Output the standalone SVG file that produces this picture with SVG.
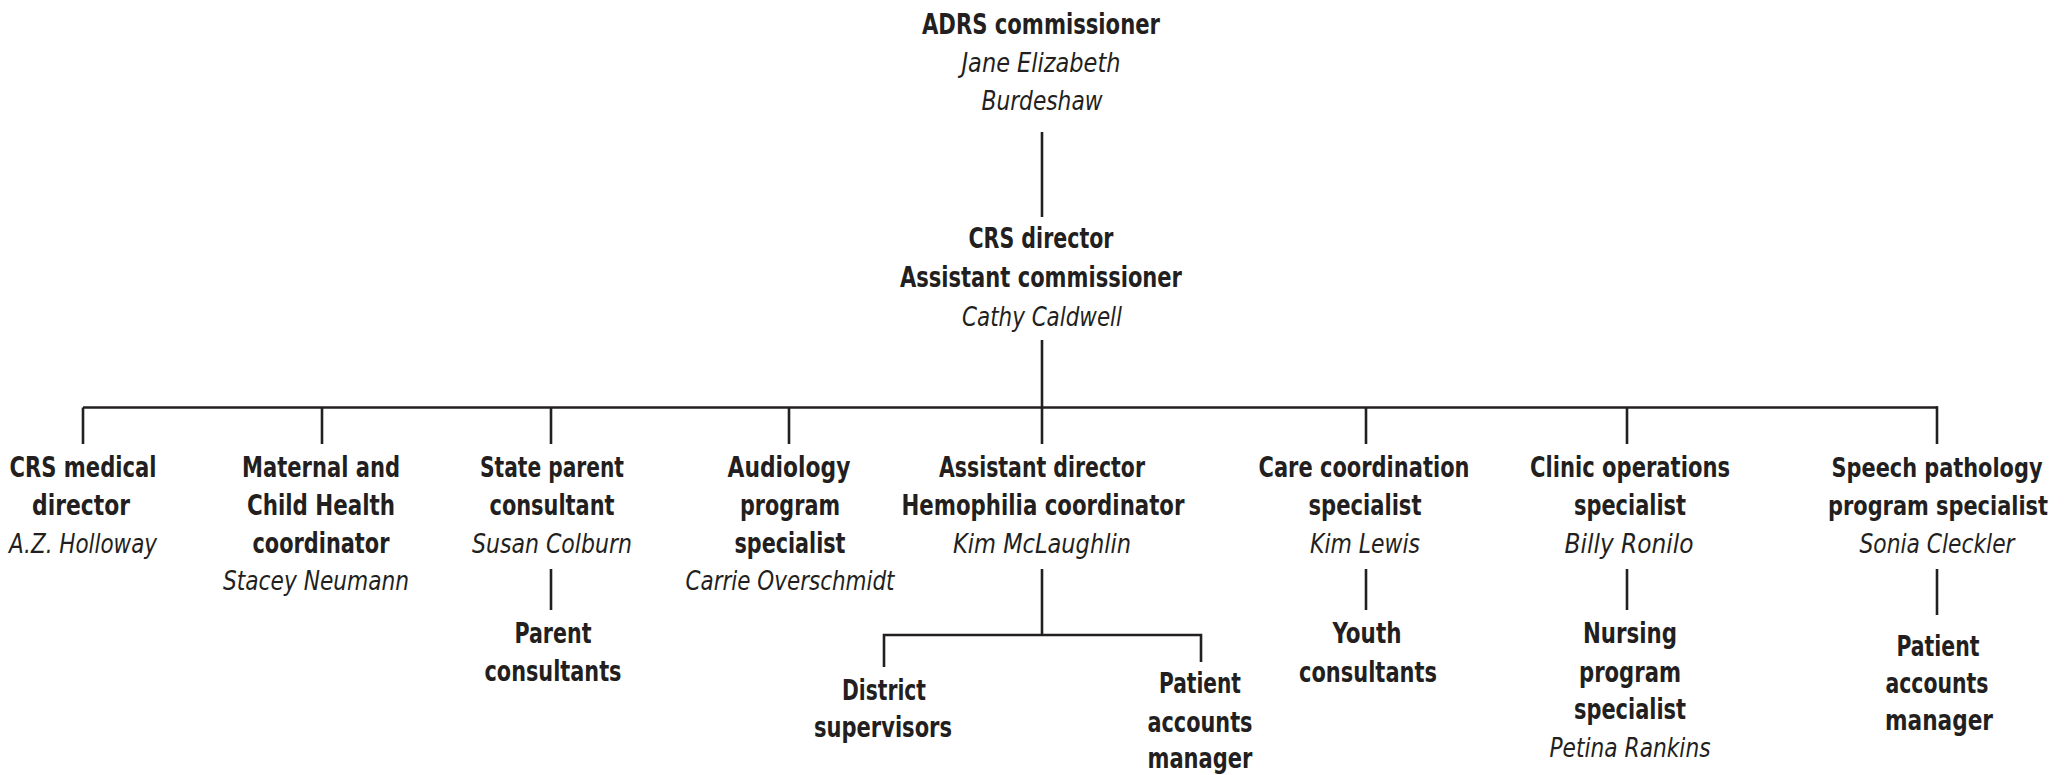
<svg xmlns="http://www.w3.org/2000/svg" width="2068" height="775" viewBox="0 0 2068 775">
<style>
text{font-family:"Liberation Sans Narrow","DejaVu Sans Condensed","Liberation Sans",sans-serif;fill:#231f20;text-anchor:middle}
.t{font-size:28px;font-weight:bold}
.n{font-size:26px;font-style:italic;font-weight:normal}
.s{font-size:26px}
.c{stroke:#231f20;stroke-width:2.6;fill:none}
</style>
<rect width="2068" height="775" fill="#ffffff"/>
<g id="connectors" class="c">
<line x1="1042" y1="132" x2="1042" y2="217"/>
<line x1="1042" y1="340" x2="1042" y2="444"/>
<line x1="83" y1="407.5" x2="1937" y2="407.5"/>
<polyline points="83,444 83,407.5"/>
<line x1="322" y1="407.5" x2="322" y2="444"/>
<line x1="551" y1="407.5" x2="551" y2="444"/>
<line x1="789" y1="407.5" x2="789" y2="444"/>
<line x1="1366" y1="407.5" x2="1366" y2="444"/>
<line x1="1627" y1="407.5" x2="1627" y2="444"/>
<line x1="1937" y1="406.2" x2="1937" y2="444"/>
<line x1="551" y1="569" x2="551" y2="610"/>
<line x1="1366" y1="569" x2="1366" y2="610"/>
<line x1="1627" y1="569" x2="1627" y2="610"/>
<line x1="1937" y1="569" x2="1937" y2="615"/>
<line x1="1042" y1="569" x2="1042" y2="635"/>
<polyline points="884,667 884,635 1201,635 1201,662"/>
</g>
<g id="adrs">
<text class="t" x="1041" y="34" textLength="238" lengthAdjust="spacingAndGlyphs">ADRS commissioner</text>
<text class="n" x="1041" y="72" textLength="159" lengthAdjust="spacingAndGlyphs">Jane Elizabeth</text>
<text class="n" x="1042" y="110" textLength="121" lengthAdjust="spacingAndGlyphs">Burdeshaw</text>
</g>
<g id="crs-director">
<text class="t" x="1041" y="248" textLength="145" lengthAdjust="spacingAndGlyphs">CRS director</text>
<text class="t" x="1041" y="287" textLength="282" lengthAdjust="spacingAndGlyphs">Assistant commissioner</text>
<text class="n" x="1042" y="326" textLength="160" lengthAdjust="spacingAndGlyphs">Cathy Caldwell</text>
</g>
<g id="crs-medical">
<text class="t" x="83" y="477" textLength="147" lengthAdjust="spacingAndGlyphs">CRS medical</text>
<text class="t" x="81" y="515" textLength="98" lengthAdjust="spacingAndGlyphs">director</text>
<text class="n" x="83" y="553" textLength="148" lengthAdjust="spacingAndGlyphs">A.Z. Holloway</text>
</g>
<g id="maternal">
<text class="t" x="321" y="477" textLength="158" lengthAdjust="spacingAndGlyphs">Maternal and</text>
<text class="t" x="321" y="515" textLength="148" lengthAdjust="spacingAndGlyphs">Child Health</text>
<text class="t" x="321" y="553" textLength="137" lengthAdjust="spacingAndGlyphs">coordinator</text>
<text class="n" x="316" y="590" textLength="186" lengthAdjust="spacingAndGlyphs">Stacey Neumann</text>
</g>
<g id="state-parent">
<text class="t" x="552" y="477" textLength="144" lengthAdjust="spacingAndGlyphs">State parent</text>
<text class="t" x="552" y="515" textLength="125" lengthAdjust="spacingAndGlyphs">consultant</text>
<text class="n" x="552" y="553" textLength="160" lengthAdjust="spacingAndGlyphs">Susan Colburn</text>
</g>
<g id="parent-consultants">
<text class="t" x="553" y="643" textLength="77" lengthAdjust="spacingAndGlyphs">Parent</text>
<text class="t" x="553" y="681" textLength="137" lengthAdjust="spacingAndGlyphs">consultants</text>
</g>
<g id="audiology">
<text class="t" x="789" y="477" textLength="123" lengthAdjust="spacingAndGlyphs">Audiology</text>
<text class="t" x="790" y="515" textLength="100" lengthAdjust="spacingAndGlyphs">program</text>
<text class="t" x="790" y="553" textLength="111" lengthAdjust="spacingAndGlyphs">specialist</text>
<text class="n" x="790" y="590" textLength="209" lengthAdjust="spacingAndGlyphs">Carrie Overschmidt</text>
</g>
<g id="assistant-director">
<text class="t" x="1042" y="477" textLength="206" lengthAdjust="spacingAndGlyphs">Assistant director</text>
<text class="t" x="1043" y="515" textLength="283" lengthAdjust="spacingAndGlyphs">Hemophilia coordinator</text>
<text class="n" x="1042" y="553" textLength="178" lengthAdjust="spacingAndGlyphs">Kim McLaughlin</text>
</g>
<g id="district-supervisors">
<text class="t" x="884" y="700" textLength="84" lengthAdjust="spacingAndGlyphs">District</text>
<text class="t" x="883" y="737" textLength="138" lengthAdjust="spacingAndGlyphs">supervisors</text>
</g>
<g id="patient-accounts-1">
<text class="t" x="1200" y="693" textLength="82" lengthAdjust="spacingAndGlyphs">Patient</text>
<text class="t" x="1200" y="732" textLength="105" lengthAdjust="spacingAndGlyphs">accounts</text>
<text class="t" x="1200" y="768" textLength="105" lengthAdjust="spacingAndGlyphs">manager</text>
</g>
<g id="care-coordination">
<text class="t" x="1364" y="477" textLength="211" lengthAdjust="spacingAndGlyphs">Care coordination</text>
<text class="t" x="1365" y="515" textLength="113" lengthAdjust="spacingAndGlyphs">specialist</text>
<text class="n" x="1365" y="553" textLength="110" lengthAdjust="spacingAndGlyphs">Kim Lewis</text>
</g>
<g id="youth-consultants">
<text class="t" x="1367" y="643" textLength="69" lengthAdjust="spacingAndGlyphs">Youth</text>
<text class="t" x="1368" y="682" textLength="138" lengthAdjust="spacingAndGlyphs">consultants</text>
</g>
<g id="clinic-operations">
<text class="t" x="1630" y="477" textLength="200" lengthAdjust="spacingAndGlyphs">Clinic operations</text>
<text class="t" x="1630" y="515" textLength="112" lengthAdjust="spacingAndGlyphs">specialist</text>
<text class="n" x="1629" y="553" textLength="129" lengthAdjust="spacingAndGlyphs">Billy Ronilo</text>
</g>
<g id="nursing">
<text class="t" x="1630" y="643" textLength="94" lengthAdjust="spacingAndGlyphs">Nursing</text>
<text class="t" x="1630" y="682" textLength="102" lengthAdjust="spacingAndGlyphs">program</text>
<text class="t" x="1630" y="719" textLength="112" lengthAdjust="spacingAndGlyphs">specialist</text>
<text class="n" x="1630" y="757" textLength="161" lengthAdjust="spacingAndGlyphs">Petina Rankins</text>
</g>
<g id="speech-pathology">
<text class="t s" x="1937" y="477" textLength="211" lengthAdjust="spacingAndGlyphs">Speech pathology</text>
<text class="t s" x="1938" y="515" textLength="220" lengthAdjust="spacingAndGlyphs">program specialist</text>
<text class="n" x="1937" y="553" textLength="155" lengthAdjust="spacingAndGlyphs">Sonia Cleckler</text>
</g>
<g id="patient-accounts-2">
<text class="t" x="1938" y="656" textLength="83" lengthAdjust="spacingAndGlyphs">Patient</text>
<text class="t" x="1937" y="693" textLength="103" lengthAdjust="spacingAndGlyphs">accounts</text>
<text class="t" x="1939" y="730" textLength="108" lengthAdjust="spacingAndGlyphs">manager</text>
</g>
</svg>
